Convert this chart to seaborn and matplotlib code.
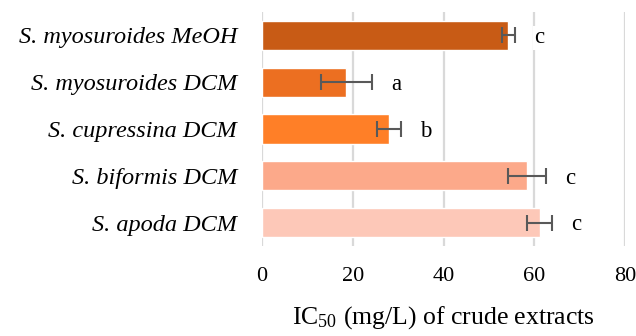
import matplotlib
matplotlib.use("Agg")
import matplotlib.pyplot as plt
import seaborn as sns
import pandas as pd

categories = ["S. myosuroides MeOH", "S. myosuroides DCM", "S. cupressina DCM",
              "S. biformis DCM", "S. apoda DCM"]
ic50 = [54.3, 18.6, 28.0, 58.4, 61.2]
errors = [1.5, 5.7, 2.7, 4.2, 2.7]
letters = ["c", "a", "b", "c", "c"]
colors = ["#C85B15", "#EC6F21", "#FF7F27", "#FCA98A", "#FDC8B8"]
xticks = [0, 20, 40, 60, 80]

sns.set_theme(style="white")
plt.rcParams["font.family"] = ["Liberation Serif", "DejaVu Serif"]
plt.rcParams["mathtext.fontset"] = "custom"
plt.rcParams["mathtext.rm"] = "Liberation Serif"
plt.rcParams["mathtext.it"] = "Liberation Serif:italic"
plt.rcParams["text.color"] = "black"
plt.rcParams["xtick.color"] = "black"
plt.rcParams["ytick.color"] = "black"
plt.rcParams["axes.labelcolor"] = "black"

df = pd.DataFrame({"cat": categories, "val": ic50})

fig = plt.figure(figsize=(6.36, 3.36), dpi=100)
ax = fig.add_axes([262 / 636, 1 - 246 / 336, (625 - 262) / 636, (246 - 12) / 336])

sns.barplot(data=df, x="val", y="cat", hue="cat", palette=colors, legend=False,
            orient="h", width=0.62, ax=ax, zorder=2, saturation=1)
ax.errorbar(ic50, range(len(categories)), xerr=errors, fmt="none",
            ecolor="#595959", elinewidth=1.5, capsize=6, capthick=1.5, zorder=3)

for i, (v, e, l) in enumerate(zip(ic50, errors, letters)):
    ax.text(v + e + 5.3, i + 0.05, l, ha="center", va="center", fontsize=16.5,
            color="black", zorder=4,
            bbox=dict(facecolor="white", edgecolor="none", pad=1))

ax.set_xlim(0, 80)
ax.set_ylim(4.5, -0.5)
ax.set_xticks(xticks)
ax.set_xticklabels([str(t) for t in xticks], fontsize=16)
ax.tick_params(axis="x", length=0, pad=15)
ax.tick_params(axis="y", length=0, pad=18)
for lab in ax.get_yticklabels():
    lab.set_fontstyle("italic")
    lab.set_fontsize(17.5)
ax.set_ylabel("")
ax.set_xlabel(r"IC$_{50}$ (mg/L) of crude extracts", fontsize=18.5, labelpad=13)
ax.grid(axis="x", color="#D9D9D9", linewidth=1.6, zorder=0)
ax.set_axisbelow(True)
for s in ax.spines.values():
    s.set_visible(False)

fig.savefig("out.png", dpi=100, facecolor="white")
